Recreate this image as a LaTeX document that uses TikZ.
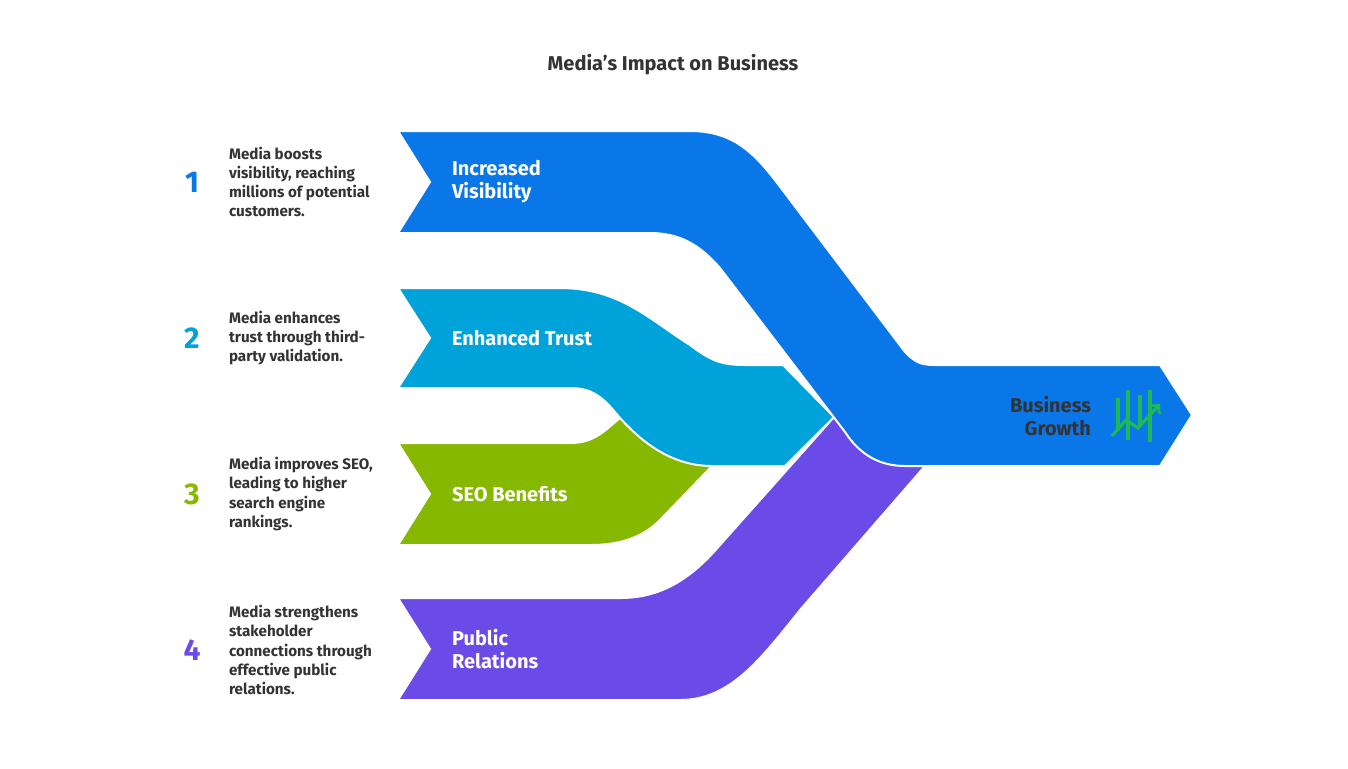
\documentclass[tikz,border=0pt]{standalone}
\usepackage{fontspec}
\setmainfont{Fira Sans}
\usetikzlibrary{positioning}
\definecolor{cBlue}{HTML}{0A77E8}
\definecolor{cCyan}{HTML}{00A3D9}
\definecolor{cGreen}{HTML}{86B800}
\definecolor{cPurple}{HTML}{6B4BE8}
\definecolor{cText}{HTML}{333333}
\definecolor{cIcon}{HTML}{1DB954}
\tikzset{
  band/.style={draw=white, line width=1pt},
  lbl/.style={anchor=west, align=left, text=white, font=\fontsize{10}{11.5}\selectfont\bfseries},
  num/.style={font=\fontsize{15}{15}\selectfont\bfseries},
  desc/.style={anchor=west, align=left, text=cText, font=\fontsize{7.6}{9.6}\selectfont\bfseries}
}
\begin{document}
\begin{tikzpicture}[x=0.5pt,y=-0.5pt]
  \useasboundingbox (0,0) rectangle (1348,768);

  \node[text=cText, font=\fontsize{10}{12}\selectfont\bfseries] (title) at (673,65) {Media's Impact on Business};

  % bands
  \fill[cGreen, band] (398,443) -- (570,443) .. controls (595,443) and (605,430) .. (620,418)
    -- (712,466) -- (660,520) .. controls (640,540) and (615,545) .. (590,545)
    -- (398,545) -- (430,494) -- cycle;
  \fill[cCyan, band] (398,288) -- (560,288) .. controls (620,288) and (650,320) .. (690,345)
    .. controls (710,360) and (720,365) .. (745,365) -- (783,365) -- (834,417) -- (785,466)
    -- (712,466) .. controls (670,466) and (640,440) .. (620,418)
    .. controls (605,400) and (595,388) .. (570,388) -- (398,388) -- (430,338) -- cycle;
  \fill[cPurple, band] (398,598) -- (620,598) .. controls (660,598) and (690,580) .. (720,545)
    -- (834,417) -- (925,466) -- (800,610) .. controls (760,660) and (730,700) .. (680,700)
    -- (398,700) -- (430,649) -- cycle;
  \fill[cBlue, band] (398,131) -- (690,131) .. controls (740,131) and (760,160) .. (790,200)
    -- (905,352) .. controls (915,362) and (920,365) .. (935,365) -- (1160,365) -- (1192,415)
    -- (1160,466) -- (905,466) .. controls (880,466) and (860,455) .. (845,432)
    -- (720,268) .. controls (700,245) and (680,233) .. (650,233) -- (398,233) -- (430,182) -- cycle;

  % band labels
  \node[lbl] (vis) at (445,182) {Increased\\Visibility};
  \node[lbl] (trust) at (445,338) {Enhanced Trust};
  \node[lbl] (seo) at (445,494) {SEO Benefits};
  \node[lbl] (pr) at (445,649) {Public\\Relations};
  \node[lbl, anchor=east, align=right, text=cText] (growth) at (1098,416) {Business\\Growth};

  % icon
  \draw[cIcon, line width=1.6pt] (1118,398) -- (1118,430) (1128,390) -- (1128,440)
    (1140,395) -- (1140,425) (1150,390) -- (1150,442);
  \draw[cIcon, line width=1.6pt, ->] (1112,436) -- (1126,420) -- (1138,428) -- (1160,404);

  % numbers and text
  \node[num, text=cBlue] (n1) at (192,182) {1};
  \node[num, text=cCyan] (n2) at (192,338) {2};
  \node[num, text=cGreen] (n3) at (192,494) {3};
  \node[num, text=cPurple] (n4) at (192,650) {4};
  \node[desc] (d1) at (222,182) {Media boosts\\visibility, reaching\\millions of potential\\customers.};
  \node[desc] (d2) at (222,338) {Media enhances\\trust through third-\\party validation.};
  \node[desc] (d3) at (222,494) {Media improves SEO,\\leading to higher\\search engine\\rankings.};
  \node[desc] (d4) at (222,650) {Media strengthens\\stakeholder\\connections through\\effective public\\relations.};
\end{tikzpicture}
\end{document}
